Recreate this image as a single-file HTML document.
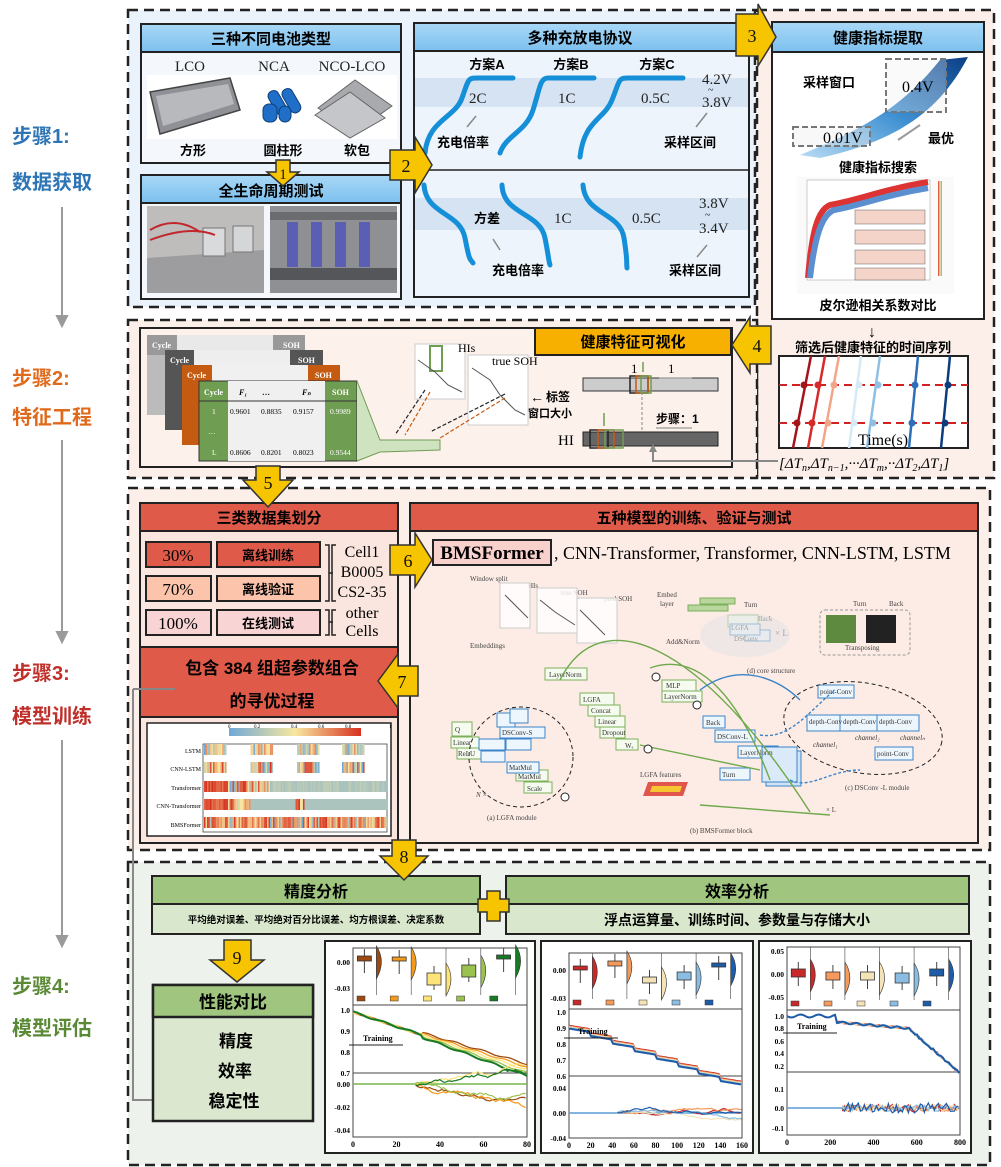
<!DOCTYPE html>
<html><head><meta charset="utf-8"><style>
html,body{margin:0;padding:0;background:#fff}
svg{display:block}
text{font-family:"Liberation Sans","Noto Sans CJK SC",sans-serif}
.s{font-family:"Liberation Serif","Noto Serif CJK SC",serif}
.b{font-weight:bold}
</style></head><body>
<svg id="sv" width="1001" height="1167" viewBox="0 0 1001 1167" xmlns="http://www.w3.org/2000/svg">
<defs>
<linearGradient id="hb" x1="0" y1="0" x2="0" y2="1"><stop offset="0" stop-color="#a9d8f7"/><stop offset="1" stop-color="#7cc0ee"/></linearGradient>
<linearGradient id="hg" x1="0" y1="1" x2="1" y2="0"><stop offset="0" stop-color="#b8dcf5"/><stop offset="0.5" stop-color="#3d8fd1"/><stop offset="1" stop-color="#0b3f86"/></linearGradient>
<linearGradient id="cb" x1="0" y1="0" x2="1" y2="0"><stop offset="0" stop-color="#6fa8d6"/><stop offset="0.5" stop-color="#f8e7a0"/><stop offset="1" stop-color="#d7301f"/></linearGradient>
</defs>

<!-- left step labels -->
<g class="b" font-size="20">
<text x="12" y="143" fill="#2e75b6" font-weight="bold">步骤1:</text>
<text x="12" y="189" fill="#2e75b6" font-weight="bold">数据获取</text>
<text x="12" y="385" fill="#e06a1b" font-weight="bold">步骤2:</text>
<text x="12" y="424" fill="#e06a1b" font-weight="bold">特征工程</text>
<text x="12" y="680" fill="#c0302b" font-weight="bold">步骤3:</text>
<text x="12" y="723" fill="#c0302b" font-weight="bold">模型训练</text>
<text x="12" y="993" fill="#5a8a35" font-weight="bold">步骤4:</text>
<text x="12" y="1035" fill="#5a8a35" font-weight="bold">模型评估</text>
</g>
<g stroke="#9a9a9a" stroke-width="2" fill="#9a9a9a">
<line x1="62" y1="207" x2="62" y2="318"/><path d="M57,316 L62,326 L67,316Z"/>
<line x1="62" y1="440" x2="62" y2="634"/><path d="M57,632 L62,642 L67,632Z"/>
<line x1="62" y1="740" x2="62" y2="938"/><path d="M57,936 L62,946 L67,936Z"/>
</g>

<!-- section backgrounds -->
<rect x="757" y="10" width="237" height="468" fill="#fcefe9"/>
<rect x="128" y="10" width="627" height="297" fill="#eaf2fb" stroke="#222" stroke-width="2.5" stroke-dasharray="10,6"/>
<rect x="757" y="10" width="237" height="468" fill="none" stroke="#222" stroke-width="2.5" stroke-dasharray="10,6"/>
<rect x="128" y="320" width="629" height="158" fill="#fcefe9" stroke="#222" stroke-width="2.5" stroke-dasharray="10,6"/>
<rect x="128" y="488" width="862" height="362" fill="#fcefe9" stroke="#222" stroke-width="2.5" stroke-dasharray="10,6"/>
<rect x="128" y="862" width="862" height="303" fill="#eef2ec" stroke="#222" stroke-width="2.5" stroke-dasharray="10,6"/>

<!-- ===== Section 1 ===== -->
<rect x="141" y="24" width="260" height="139" fill="#f4f8fc" stroke="#222" stroke-width="2"/>
<rect x="141" y="24" width="260" height="28" fill="url(#hb)" stroke="#222" stroke-width="2"/>
<text x="271" y="44" font-size="15" font-weight="bold" text-anchor="middle">三种不同电池类型</text>
<g class="s" font-size="15" text-anchor="middle" fill="#222">
<text x="190" y="71" class="s">LCO</text><text x="274" y="71" class="s">NCA</text><text x="352" y="71" class="s">NCO-LCO</text></g>
<rect x="147" y="75" width="250" height="64" fill="#fff"/>
<path d="M150,92 L230,78 L240,110 L160,134 Z" fill="#8f9196" stroke="#444" stroke-width="1.5"/>
<path d="M156,96 L228,84 L234,104 L163,126Z" fill="#b7b9bd"/>
<g fill="#1f6fc9" stroke="#0d3f7a"><rect x="272" y="90" width="11" height="26" rx="5" transform="rotate(-30 277 103)"/><rect x="286" y="88" width="11" height="26" rx="5" transform="rotate(-30 291 101)"/><rect x="263" y="104" width="14" height="18" rx="6"/><rect x="279" y="106" width="12" height="16" rx="6"/></g>
<g fill="#a8aaae" stroke="#666"><path d="M318,108 L355,80 L392,106 L355,132Z"/><path d="M315,115 L350,92 L385,118 L350,138Z" fill="#c4c6ca"/></g>
<g font-size="13" font-weight="bold" text-anchor="middle"><text x="193" y="155">方形</text><text x="283" y="155">圆柱形</text><text x="357" y="155">软包</text></g>

<rect x="141" y="175" width="260" height="124" fill="#f4f8fc" stroke="#222" stroke-width="2"/>
<rect x="141" y="175" width="260" height="28" fill="url(#hb)" stroke="#222" stroke-width="2"/>
<text x="271" y="196" font-size="15" font-weight="bold" text-anchor="middle">全生命周期测试</text>
<rect x="147" y="206" width="117" height="87" fill="#bfbcbc"/>
<path d="M147,258 L264,250 L264,293 L147,293Z" fill="#9d9c9e"/>
<rect x="203" y="228" width="22" height="28" fill="#d9dadc" stroke="#777"/><rect x="233" y="226" width="20" height="26" fill="#d5d6d8" stroke="#777"/>
<path d="M150,230 Q175,215 200,232 M150,240 Q190,225 215,235" stroke="#c0282e" stroke-width="2" fill="none"/>
<rect x="270" y="206" width="127" height="87" fill="#8f9094"/>
<rect x="270" y="212" width="127" height="8" fill="#6b6c70"/><rect x="270" y="268" width="127" height="12" fill="#55565a"/>
<g fill="#5a5fb4"><rect x="287" y="222" width="11" height="45"/><rect x="311" y="222" width="11" height="45"/><rect x="335" y="222" width="11" height="45"/><rect x="359" y="222" width="11" height="45"/></g>

<rect x="414" y="23" width="335" height="274" fill="#eef4fb" stroke="#222" stroke-width="2"/>
<rect x="414" y="23" width="335" height="28" fill="url(#hb)" stroke="#222" stroke-width="2"/>
<text x="580" y="43" font-size="15" font-weight="bold" text-anchor="middle">多种充放电协议</text>
<line x1="414" y1="170" x2="749" y2="170" stroke="#222" stroke-width="1.5"/>
<rect x="415" y="78" width="333" height="29" fill="#d5e3f2"/>
<rect x="415" y="198" width="333" height="32" fill="#d5e3f2"/>
<g stroke="#168fd9" stroke-width="5" fill="none" stroke-linecap="round">
<path d="M425,153 C428,120 455,118 462,98 S468,78 478,78 L513,78"/>
<path d="M500,153 C506,135 526,132 533,110 S540,78 548,78 L594,78"/>
<path d="M580,157 C584,120 604,120 612,100 S618,78 628,78 L683,78"/>
<path d="M424,185 C426,215 460,212 465,238 S470,258 473,263"/>
<path d="M502,185 C503,215 540,212 545,238 S548,258 550,265"/>
<path d="M583,185 C585,215 620,212 624,238 S626,258 627,268"/>
</g>
<g font-size="13" font-weight="bold" text-anchor="middle"><text x="487" y="69">方案A</text><text x="571" y="69">方案B</text><text x="657" y="69">方案C</text>
<text x="463" y="147">充电倍率</text><text x="690" y="147">采样区间</text><text x="487" y="223">方差</text><text x="518" y="275">充电倍率</text><text x="695" y="275">采样区间</text></g>
<g class="s" font-size="15" fill="#222"><text x="469" y="103" class="s">2C</text><text x="558" y="103" class="s">1C</text><text x="641" y="103" class="s">0.5C</text><text x="554" y="223" class="s">1C</text><text x="632" y="223" class="s">0.5C</text>
<text x="702" y="84" class="s">4.2V</text><text x="708" y="93" class="s" font-size="10">~</text><text x="702" y="107" class="s">3.8V</text>
<text x="699" y="208" class="s">3.8V</text><text x="705" y="218" class="s" font-size="10">~</text><text x="699" y="233" class="s">3.4V</text></g>
<g stroke="#888" stroke-width="1.5" fill="#888"><line x1="467" y1="127" x2="476" y2="116"/><line x1="500" y1="250" x2="493" y2="239"/><line x1="696" y1="127" x2="707" y2="113"/><line x1="697" y1="257" x2="707" y2="245"/></g>

<!-- health box -->
<rect x="772" y="22" width="212" height="297" fill="#fff" stroke="#222" stroke-width="2"/>
<rect x="772" y="22" width="212" height="30" fill="url(#hb)" stroke="#222" stroke-width="2"/>
<text x="878" y="43" font-size="15" font-weight="bold" text-anchor="middle">健康指标提取</text>
<path d="M800,155 C860,130 900,110 940,60 L968,57 C940,110 900,140 820,158 Z" fill="url(#hg)"/>
<rect x="886" y="59" width="60" height="53" fill="#eee" fill-opacity="0.3" stroke="#777" stroke-width="2" stroke-dasharray="6,3"/>
<rect x="793" y="127" width="77" height="19" fill="#eee" fill-opacity="0.4" stroke="#777" stroke-width="2" stroke-dasharray="6,3"/>
<text x="803" y="87" font-size="13" font-weight="bold">采样窗口</text>
<text x="902" y="92" class="s" font-size="16">0.4V</text><text x="823" y="143" class="s" font-size="16">0.01V</text>
<text x="928" y="143" font-size="13" font-weight="bold">最优</text>
<line x1="920" y1="125" x2="898" y2="140" stroke="#999" stroke-width="2"/>
<text x="878" y="172" font-size="13" font-weight="bold" text-anchor="middle">健康指标搜索</text>
<rect x="797" y="177" width="157" height="117" fill="#fafafa"/>
<rect x="807" y="180" width="123" height="100" fill="#fff" stroke="#999" stroke-width="0.5"/>
<path d="M808,278 C812,230 818,210 830,205 C860,200 880,190 928,182" stroke="#d33" stroke-width="6" fill="none"/>
<path d="M810,278 C815,235 822,215 834,210 C862,205 885,195 928,188" stroke="#5b8fcf" stroke-width="6" fill="none"/>
<g fill="#f4d3c8" stroke="#666" stroke-width="0.5"><rect x="855" y="210" width="70" height="14"/><rect x="855" y="230" width="70" height="14"/><rect x="855" y="250" width="70" height="14"/><rect x="855" y="268" width="70" height="12"/></g>
<rect x="938" y="182" width="4" height="95" fill="url(#cb)" transform="rotate(180 940 229)"/>
<text x="878" y="310" font-size="13" font-weight="bold" text-anchor="middle">皮尔逊相关系数对比</text>
<text x="872" y="337" font-size="16" font-weight="bold" text-anchor="middle">↓</text>
<text x="873" y="352" font-size="13" font-weight="bold" text-anchor="middle">筛选后健康特征的时间序列</text>
<rect x="779" y="356" width="189" height="92" fill="#fff" stroke="#222" stroke-width="2"/>
<g stroke-width="2.5"><line x1="793" y1="448" x2="811" y2="356" stroke="#a4141b"/><line x1="808" y1="448" x2="825" y2="356" stroke="#d62a2a"/><line x1="822" y1="448" x2="839" y2="356" stroke="#f3a58a"/><line x1="849" y1="448" x2="861" y2="356" stroke="#d6eaf6"/><line x1="867" y1="448" x2="880" y2="356" stroke="#8fc0e4"/><line x1="909" y1="448" x2="918" y2="356" stroke="#2d6fb8"/><line x1="941" y1="448" x2="950" y2="356" stroke="#0e3d7d"/></g>
<line x1="779" y1="385" x2="968" y2="385" stroke="#d42020" stroke-width="2" stroke-dasharray="8,5"/>
<line x1="779" y1="423" x2="968" y2="423" stroke="#d42020" stroke-width="2" stroke-dasharray="8,5"/>
<g><circle cx="804" cy="385" r="3.5" fill="#a4141b"/><circle cx="818" cy="385" r="3.5" fill="#d62a2a"/><circle cx="834" cy="385" r="3.5" fill="#f3a58a"/><circle cx="859" cy="385" r="3.5" fill="#d6eaf6"/><circle cx="878" cy="385" r="3.5" fill="#8fc0e4"/><circle cx="915" cy="385" r="3.5" fill="#2d6fb8"/><circle cx="948" cy="385" r="3.5" fill="#0e3d7d"/>
<circle cx="797" cy="423" r="3.5" fill="#a4141b"/><circle cx="812" cy="423" r="3.5" fill="#d62a2a"/><circle cx="828" cy="423" r="3.5" fill="#f3a58a"/><circle cx="854" cy="423" r="3.5" fill="#d6eaf6"/><circle cx="873" cy="423" r="3.5" fill="#8fc0e4"/><circle cx="912" cy="423" r="3.5" fill="#2d6fb8"/><circle cx="945" cy="423" r="3.5" fill="#0e3d7d"/></g>
<text x="858" y="445" class="s" font-size="16">Time(s)</text>
<text x="779" y="468" class="s" font-size="15" font-style="italic">[ΔT<tspan font-size="10" dy="3">n</tspan><tspan dy="-3">,ΔT</tspan><tspan font-size="10" dy="3">n−1</tspan><tspan dy="-3">,···ΔT</tspan><tspan font-size="10" dy="3">m</tspan><tspan dy="-3">,··ΔT</tspan><tspan font-size="10" dy="3">2</tspan><tspan dy="-3">,ΔT</tspan><tspan font-size="10" dy="3">1</tspan><tspan dy="-3">]</tspan></text>

<!-- ===== Section 2 ===== -->
<rect x="140" y="328" width="592" height="139" fill="#fdf1ec" stroke="#222" stroke-width="2"/>
<rect x="535" y="328" width="196" height="27" fill="#f7b000" stroke="#222" stroke-width="2"/>
<text x="633" y="347" font-size="15" font-weight="bold" text-anchor="middle">健康特征可视化</text>
<g font-size="8" font-weight="bold" class="s">
<rect x="147" y="335" width="158" height="80" fill="#bbb"/><rect x="147" y="335" width="158" height="20" fill="#999"/><rect x="177" y="335" width="96" height="80" fill="#e9e9e9"/><text x="152" y="348" fill="#fff" class="s">Cycle</text><text x="283" y="348" fill="#fff" class="s">SOH</text>
<rect x="165" y="350" width="158" height="80" fill="#555"/><rect x="194" y="350" width="96" height="80" fill="#eee"/><text x="170" y="363" fill="#fff" class="s">Cycle</text><text x="298" y="363" fill="#fff" class="s">SOH</text>
<rect x="182" y="365" width="158" height="80" fill="#c55a11"/><rect x="212" y="365" width="96" height="80" fill="#f0f0f0"/><text x="187" y="378" fill="#fff" class="s">Cycle</text><text x="315" y="378" fill="#fff" class="s">SOH</text>
<rect x="199" y="381" width="158" height="80" fill="#6f9d52" stroke="#333"/><rect x="228" y="381" width="97" height="80" fill="#f0f0f0"/><line x1="199" y1="401" x2="357" y2="401" stroke="#333"/>
<text x="204" y="395" fill="#fff" class="s">Cycle</text><text x="239" y="395" class="s" font-style="italic">F₁</text><text x="262" y="395" class="s">…</text><text x="302" y="395" class="s" font-style="italic">Fₙ</text><text x="332" y="395" fill="#fff" class="s">SOH</text>
<g font-weight="normal" font-size="7.5"><text x="212" y="414" fill="#fff" class="s">1</text><text x="230" y="414" class="s">0.9601</text><text x="261" y="414" class="s">0.8835</text><text x="293" y="414" class="s">0.9157</text><text x="330" y="414" fill="#fff" class="s">0.9989</text>
<text x="208" y="434" fill="#fff" class="s">…</text><text x="212" y="455" fill="#fff" class="s">L</text><text x="230" y="455" class="s">0.8606</text><text x="261" y="455" class="s">0.8201</text><text x="293" y="455" class="s">0.8023</text><text x="330" y="455" fill="#fff" class="s">0.9544</text></g>
</g>
<path d="M357,381 L380,440 L440,440 L440,450 L380,452 L357,461" fill="#cfe3c0" stroke="#6f9d52"/>
<rect x="415" y="344" width="50" height="55" fill="#fff" stroke="#ccc"/><rect x="430" y="346" width="12" height="25" fill="none" stroke="#6f9d52" stroke-width="2"/>
<path d="M418,360 L435,372 L448,385 L462,392" stroke="#555" fill="none"/>
<rect x="468" y="355" width="60" height="70" fill="#fff" stroke="#ccc"/>
<path d="M472,368 L490,380 L500,395 L515,410 L525,415" stroke="#555" fill="none"/>
<text x="458" y="352" class="s" font-size="12">HIs</text><text x="492" y="365" class="s" font-size="12">true SOH</text>
<g stroke-dasharray="4,2" stroke-width="1.2" fill="none"><line x1="425" y1="390" x2="395" y2="435" stroke="#222"/><line x1="430" y1="392" x2="405" y2="435" stroke="#c55a11"/><line x1="505" y1="394" x2="430" y2="432" stroke="#222"/><line x1="505" y1="398" x2="440" y2="438" stroke="#c55a11"/></g>
<text x="546" y="401" font-size="12" font-weight="bold">标签</text><text x="528" y="417" font-size="11" font-weight="bold">窗口大小</text>
<text x="530" y="402" font-size="14" font-weight="bold">←</text>
<text x="558" y="445" class="s" font-size="15">HI</text>
<rect x="583" y="378" width="135" height="13" fill="#ccc" stroke="#333"/>
<rect x="583" y="432" width="135" height="14" fill="#666" stroke="#222"/>
<rect x="630" y="376" width="18" height="17" fill="none" stroke="#222" stroke-width="1.5"/><rect x="636" y="376" width="12" height="17" fill="none" stroke="#c55a11" stroke-width="1.5"/><rect x="641" y="376" width="10" height="17" fill="none" stroke="#6f9d52" stroke-width="1.5"/>
<rect x="590" y="430" width="18" height="18" fill="none" stroke="#222" stroke-width="1.5"/><rect x="598" y="430" width="16" height="18" fill="none" stroke="#c55a11" stroke-width="1.5"/><rect x="605" y="430" width="18" height="18" fill="none" stroke="#6f9d52" stroke-width="1.5"/>
<text x="631" y="373" class="s" font-size="13">1</text><text x="668" y="373" class="s" font-size="13">1</text>
<line x1="659" y1="378" x2="692" y2="378" stroke="#999" stroke-width="1.2"/>
<text x="656" y="423" font-size="12" font-weight="bold">步骤：1</text><line x1="656" y1="428" x2="692" y2="428" stroke="#999" stroke-width="1.2"/>
<line x1="643" y1="362" x2="643" y2="372" stroke="#6f9d52" stroke-width="1.5"/><line x1="604" y1="413" x2="604" y2="426" stroke="#6f9d52" stroke-width="1.5"/>
<line x1="642" y1="392" x2="642" y2="432" stroke="#888" stroke-dasharray="3,2"/>
<path d="M778,461 L653,461 L653,450" stroke="#888" stroke-width="2" fill="none"/><path d="M649,452 L653,444 L657,452Z" fill="#888"/>

<!-- ===== Section 3 ===== -->
<rect x="140" y="503" width="258" height="340" fill="#fbe6df" stroke="#222" stroke-width="2"/>
<rect x="140" y="503" width="258" height="28" fill="#e05a4a" stroke="#222" stroke-width="2"/>
<text x="269" y="523" font-size="15" font-weight="bold" text-anchor="middle">三类数据集划分</text>
<g stroke="#222" stroke-width="2">
<rect x="146" y="542" width="65" height="25" fill="#e05a4a"/><rect x="217" y="542" width="103" height="25" fill="#e05a4a"/>
<rect x="146" y="576" width="65" height="25" fill="#fbc4ab"/><rect x="217" y="576" width="103" height="25" fill="#fbc4ab"/>
<rect x="146" y="610" width="65" height="25" fill="#f8d4d4"/><rect x="217" y="610" width="103" height="25" fill="#f8d4d4"/></g>
<g class="s" font-size="17" text-anchor="middle"><text x="178" y="561" class="s">30%</text><text x="178" y="595" class="s">70%</text><text x="178" y="629" class="s">100%</text></g>
<g font-size="13" font-weight="bold" text-anchor="middle"><text x="268" y="560">离线训练</text><text x="268" y="594">离线验证</text><text x="268" y="628">在线测试</text></g>
<path d="M325,545 L329,545 L329,601 L325,601 M329,573 L333,573 M336,545 L332,545 L332,601 L336,601 M325,610 L329,610 L329,635 L325,635 M329,622 L333,622 M336,610 L332,610 L332,635 L336,635" stroke="#222" stroke-width="1.5" fill="none"/>
<g class="s" font-size="16" text-anchor="middle"><text x="362" y="557" class="s">Cell1</text><text x="362" y="577" class="s">B0005</text><text x="362" y="597" class="s">CS2-35</text><text x="362" y="618" class="s">other</text><text x="362" y="636" class="s">Cells</text></g>
<rect x="140" y="647" width="258" height="70" fill="#e05a4a" stroke="#222" stroke-width="2"/>
<text x="272" y="674" font-size="17" font-weight="bold" text-anchor="middle">包含 384 组超参数组合</text>
<text x="272" y="707" font-size="17" font-weight="bold" text-anchor="middle">的寻优过程</text>
<rect x="147" y="723" width="244" height="113" fill="#fff" stroke="#222" stroke-width="1.5"/>
<rect x="229" y="728" width="132" height="8" fill="url(#cb)"/>
<g font-size="5" class="s"><text x="228" y="728" class="s">0</text><text x="254" y="728" class="s">0.2</text><text x="291" y="728" class="s">0.4</text><text x="318" y="728" class="s">0.6</text><text x="345" y="728" class="s">0.8</text><text x="389" y="728" class="s">1</text></g>
<g font-size="6" class="s" text-anchor="end"><text x="201" y="753" class="s">LSTM</text><text x="201" y="771" class="s">CNN-LSTM</text><text x="201" y="790" class="s">Transformer</text><text x="201" y="808" class="s">CNN-Transformer</text><text x="201" y="827" class="s">BMSFormer</text></g>
<rect x="203" y="744" width="184" height="88" fill="none" stroke="#444" stroke-width="0.8"/>
<g id="heat"></g>

<rect x="410" y="503" width="568" height="340" fill="#fdece5" stroke="#222" stroke-width="2"/>
<rect x="410" y="503" width="568" height="28" fill="#e05a4a" stroke="#222" stroke-width="2"/>
<text x="694" y="523" font-size="15" font-weight="bold" text-anchor="middle">五种模型的训练、验证与测试</text>
<rect x="433" y="540" width="118" height="25" fill="#f8d0cc" stroke="#222" stroke-width="2"/>
<text x="492" y="559" class="s" font-size="19" font-weight="bold" text-anchor="middle">BMSFormer</text>
<text x="554" y="559" class="s" font-size="18">, CNN-Transformer, Transformer, CNN-LSTM, LSTM</text>
<g font-size="7" class="s" fill="#444">
<text x="470" y="581" class="s">Window split</text><text x="528" y="588" class="s">HIs</text><text x="561" y="595" class="s">true SOH</text><text x="604" y="601" class="s">pred SOH</text><text x="470" y="648" class="s">Embeddings</text>
<text x="657" y="597" class="s">Embed</text><text x="660" y="606" class="s">layer</text><text x="744" y="607" class="s">Turn</text><text x="758" y="621" class="s">Back</text><text x="666" y="644" class="s">Add&amp;Norm</text><text x="775" y="636" class="s" font-size="9">× L</text>
<text x="747" y="673" class="s">(d) core structure</text><text x="853" y="606" class="s">Turn</text><text x="889" y="606" class="s">Back</text><text x="845" y="650" class="s">Transposing</text>
<text x="845" y="790" class="s">(c) DSConv -L module</text><text x="640" y="777" class="s">LGFA features</text><text x="487" y="820" class="s">(a) LGFA module</text><text x="690" y="833" class="s">(b) BMSFormer block</text><text x="476" y="797" class="s" font-style="italic">N ×</text>
<text x="826" y="812" class="s">× L</text>
</g>
<g fill="#fff" fill-opacity="0.8" stroke-width="1"><rect x="500" y="583" width="30" height="45" stroke="#ccc"/><rect x="537" y="588" width="40" height="45" stroke="#ccc"/><rect x="577" y="598" width="40" height="45" stroke="#ccc"/></g>
<path d="M505,595 L520,610 L528,618 M540,600 L555,612 L575,625 M580,610 L590,620 L605,635" stroke="#555" fill="none"/>
<g stroke="#7cb15a" fill="#f5fbef" stroke-width="1"><rect x="545" y="668" width="42" height="12"/><rect x="580" y="693" width="34" height="12"/><rect x="588" y="705" width="32" height="11"/><rect x="595" y="716" width="30" height="11"/><rect x="600" y="727" width="25" height="11"/><rect x="616" y="739" width="22" height="11"/>
<rect x="452" y="722" width="20" height="14"/><rect x="451" y="737" width="28" height="11"/><rect x="457" y="748" width="24" height="11"/><rect x="516" y="770" width="32" height="11"/><rect x="524" y="782" width="28" height="11"/>
<rect x="662" y="680" width="34" height="11"/><rect x="662" y="691" width="40" height="11"/><rect x="728" y="615" width="30" height="12"/><rect x="700" y="598" width="35" height="6" fill="#b9d69f"/><rect x="688" y="605" width="40" height="6" fill="#b9d69f"/></g>
<g stroke="#3b84c9" fill="#eef6fd" stroke-width="1"><rect x="497" y="713" width="18" height="14"/><rect x="510" y="709" width="18" height="14"/><rect x="500" y="727" width="45" height="11"/><rect x="479" y="739" width="26" height="11"/><rect x="481" y="751" width="24" height="11"/><rect x="506" y="739" width="25" height="11"/><rect x="507" y="762" width="32" height="11"/>
<rect x="703" y="716" width="22" height="12"/><rect x="715" y="730" width="40" height="12"/><rect x="738" y="746" width="40" height="12"/><rect x="720" y="768" width="30" height="12"/><rect x="766" y="751" width="35" height="35" fill="#cfe3f5"/><rect x="762" y="747" width="35" height="35" fill="#dbeaf8"/>
<rect x="818" y="685" width="36" height="13"/><rect x="807" y="715" width="40" height="16"/><rect x="840" y="715" width="40" height="16"/><rect x="877" y="715" width="42" height="16"/><rect x="875" y="747" width="38" height="13"/><rect x="745" y="630" width="25" height="11"/><rect x="730" y="624" width="30" height="11"/></g>
<g font-size="7" class="s" fill="#333"><text x="549" y="677" class="s">LayerNorm</text><text x="583" y="702" class="s">LGFA</text><text x="591" y="713" class="s">Concat</text><text x="598" y="724" class="s">Linear</text><text x="602" y="735" class="s">Dropout</text><text x="625" y="748" class="s">Wₑ</text>
<text x="666" y="688" class="s">MLP</text><text x="664" y="699" class="s">LayerNorm</text><text x="706" y="725" class="s">Back</text><text x="717" y="739" class="s">DSConv-L</text><text x="740" y="755" class="s">LayerNorm</text><text x="722" y="777" class="s">Turn</text>
<text x="455" y="732" class="s">Q</text><text x="453" y="745" class="s">Linear</text><text x="458" y="756" class="s">ReLU</text><text x="502" y="735" class="s">DSConv-S</text><text x="509" y="770" class="s">MatMul</text><text x="518" y="779" class="s">MatMul</text><text x="527" y="791" class="s">Scale</text>
<text x="820" y="694" class="s">point-Conv</text><text x="809" y="724" class="s">depth-Conv</text><text x="843" y="724" class="s">depth-Conv</text><text x="879" y="724" class="s">depth-Conv</text><text x="877" y="756" class="s">point-Conv</text><text x="813" y="747" class="s" font-style="italic">channel₁</text><text x="855" y="740" class="s" font-style="italic">channel₂</text><text x="900" y="740" class="s" font-style="italic">channelₙ</text><text x="731" y="630" class="s">LGFA</text><text x="734" y="641" class="s">DSConv</text></g>
<ellipse cx="521" cy="757" rx="52" ry="50" fill="none" stroke="#222" stroke-dasharray="4,3"/>
<ellipse cx="863" cy="728" rx="80" ry="45" fill="none" stroke="#222" stroke-dasharray="4,3" transform="rotate(10 863 728)"/>
<ellipse cx="745" cy="635" rx="45" ry="22" fill="#e4e4e4" fill-opacity="0.6"/>
<rect x="820" y="610" width="90" height="45" rx="5" fill="none" stroke="#999" stroke-dasharray="3,2"/>
<rect x="826" y="615" width="30" height="28" fill="#5d8a3e"/><rect x="866" y="615" width="30" height="28" fill="#222"/>
<g fill="none" stroke-width="1.4"><path d="M560,680 C600,600 700,640 810,812" stroke="#6ea94b"/><path d="M650,668 C700,650 740,700 770,780" stroke="#6ea94b"/><path d="M640,745 L760,770" stroke="#6ea94b"/><path d="M700,690 C740,660 780,680 800,700" stroke="#3b84c9"/><path d="M790,780 C810,790 830,770 860,770" stroke="#3b84c9" stroke-dasharray="3,2"/><path d="M760,735 C790,740 810,710 835,690" stroke="#3b84c9" stroke-dasharray="3,2"/><path d="M700,805 L830,815" stroke="#6ea94b"/></g>
<g fill="#fff" stroke="#222"><circle cx="648" cy="749" r="4"/><circle cx="656" cy="677" r="4"/><circle cx="697" cy="705" r="4"/><circle cx="565" cy="797" r="4"/></g>
<path d="M648,782 L688,782 L683,796 L643,796Z" fill="#e0554c"/><path d="M652,786 L682,786 L680,792 L650,792Z" fill="#f7c531"/>

<!-- connector lines -->
<path d="M133,689 L175,689 M133,689 L133,1100 L188,1100" stroke="#888" stroke-width="2" fill="none"/><path d="M186,1095 L197,1100 L186,1105Z" fill="#888"/>

<!-- ===== Section 4 ===== -->
<rect x="152" y="876" width="328" height="58" fill="#d9e8cc" stroke="#222" stroke-width="2"/>
<rect x="152" y="876" width="328" height="28" fill="#9fc57f" stroke="#222" stroke-width="2"/>
<text x="316" y="897" font-size="16" font-weight="bold" text-anchor="middle">精度分析</text>
<text x="316" y="923" font-size="9.5" font-weight="bold" text-anchor="middle">平均绝对误差、平均绝对百分比误差、均方根误差、决定系数</text>
<rect x="506" y="876" width="463" height="58" fill="#d9e8cc" stroke="#222" stroke-width="2"/>
<rect x="506" y="876" width="463" height="28" fill="#9fc57f" stroke="#222" stroke-width="2"/>
<text x="737" y="897" font-size="16" font-weight="bold" text-anchor="middle">效率分析</text>
<text x="737" y="925" font-size="14" font-weight="bold" text-anchor="middle">浮点运算量、训练时间、参数量与存储大小</text>
<path d="M487,891 L500,891 L500,899 L509,899 L509,912 L500,912 L500,921 L487,921 L487,912 L478,912 L478,899 L487,899Z" fill="#f7c400" stroke="#333" stroke-width="1.5"/>
<rect x="153" y="985" width="160" height="136" fill="#dbe8cf" stroke="#222" stroke-width="2.5"/>
<rect x="153" y="985" width="160" height="32" fill="#9fc57f" stroke="#222" stroke-width="2.5"/>
<text x="233" y="1008" font-size="17" font-weight="bold" text-anchor="middle">性能对比</text>
<g font-size="17" font-weight="bold" text-anchor="middle"><text x="236" y="1047">精度</text><text x="235" y="1077">效率</text><text x="234" y="1107">稳定性</text></g>
<g id="charts"></g>

<!-- yellow arrows -->
<g fill="#f7c400" stroke="#333" stroke-width="1.5">
<path d="M276,160 L290,160 L290,172 L299,172 L283,186 L267,172 L276,172Z"/>
<path d="M390,150 L415,150 L415,137 L432,165 L415,193 L415,180 L390,180Z"/>
<path d="M736,14 L758,14 L758,4 L776,37 L758,66 L758,56 L736,56Z"/>
<path d="M771,326 L750,326 L750,317 L732,345 L750,373 L750,364 L771,364Z"/>
<path d="M256,466 L280,466 L280,480 L293,480 L268,507 L243,480 L256,480Z"/>
<path d="M390,545 L415,545 L415,533 L432,560 L415,587 L415,575 L390,575Z"/>
<path d="M418,666 L398,666 L398,654 L378,681 L398,708 L398,696 L418,696Z"/>
<path d="M392,840 L416,840 L416,856 L428,856 L404,880 L380,856 L392,856Z"/>
<path d="M224,940 L251,940 L251,960 L264,960 L237,982 L210,960 L224,960Z"/>
</g>
<g font-size="18" text-anchor="middle" fill="#111">
<text x="283" y="179" font-size="15" class="s">1</text><text x="406" y="172" class="s">2</text><text x="752" y="42" class="s">3</text><text x="757" y="352" class="s">4</text><text x="268" y="489" class="s">5</text><text x="408" y="567" class="s">6</text><text x="402" y="688" class="s">7</text><text x="404" y="863" class="s">8</text><text x="237" y="964" class="s">9</text>
</g>
</svg>
<script>
(function(){
var NS="http://www.w3.org/2000/svg";
function el(p,t,a){var e=document.createElementNS(NS,t);for(var k in a)e.setAttribute(k,a[k]);p.appendChild(e);return e;}
var seed=7;function r(){seed=(seed*16807)%2147483647;return (seed-1)/2147483646;}
function col(v){var c=[[111,168,214],[248,231,160],[215,48,31]];var i=v<0.5?0:1;var t=v<0.5?v*2:(v-0.5)*2;var a=c[i],b=c[i+1];return "rgb("+Math.round(a[0]+(b[0]-a[0])*t)+","+Math.round(a[1]+(b[1]-a[1])*t)+","+Math.round(a[2]+(b[2]-a[2])*t)+")";}
var h=document.getElementById("heat");
var rows=[749,767,786,804,822];
for(var ri=0;ri<5;ri++){
 for(var x=204;x<386;x+=1.5){
  var seg=(x-204)/182;var v;
  if(ri<2){var s=Math.floor((x-204)/46);var lx=(x-204)-s*46;if(lx>22)continue;v=r()*(ri==0?0.8:1);}
  else if(ri==2){v=seg<0.13?0.8+0.2*r():(seg<0.37?r():0.2+0.1*r());}
  else if(ri==3){v=seg<0.13?0.8+0.2*r():(seg>0.5&&seg<0.55?0.9*r()+0.1:(seg<0.25?r():0.22));}
  else{v=0.5+0.5*r();if(r()<0.3)v=r();}
  el(h,"rect",{x:x,y:rows[ri]-5,width:1.6,height:11,fill:col(v)});
 }
}
var g=document.getElementById("charts");
function panel(px,py,pw,ph,ax,opt){
 el(g,"rect",{x:px,y:py,width:pw,height:ph,fill:"#fff",stroke:"#222","stroke-width":2});
 var x0=ax[0],x1=ax[1],t0=ax[2],t1=ax[3],m1=ax[4],b1=ax[5];
 el(g,"rect",{x:x0,y:t0,width:x1-x0,height:b1-t0,fill:"none",stroke:"#444","stroke-width":1});
 el(g,"line",{x1:x0,y1:t1,x2:x1,y2:t1,stroke:"#444"});el(g,"line",{x1:x0,y1:m1,x2:x1,y2:m1,stroke:"#444"});
 var cols=opt.cols;var n=5;
 for(var i=0;i<n;i++){var cx=x0+(x1-x0)*(i+0.5)/n-6;var cy=opt.bc[i];
  el(g,"line",{x1:cx,y1:cy-12,x2:cx,y2:cy+12,stroke:"#444"});
  el(g,"rect",{x:cx-7,y:cy-5,width:14,height:opt.bh[i],fill:cols[i],stroke:"#333","stroke-width":0.8});
  el(g,"path",{d:"M"+(cx+12)+","+(cy-15)+" Q"+(cx+22)+","+cy+" "+(cx+12)+","+(cy+18)+"Z",fill:cols[i],stroke:"#333","stroke-width":0.6});
  el(g,"line",{x1:cx+12,y1:t0,x2:cx+12,y2:t1-10,stroke:"#444","stroke-width":0.6});
  el(g,"rect",{x:x0+4+i*(x1-x0-8)/5,y:t1-9,width:8,height:5,fill:cols[i],stroke:"#333","stroke-width":0.5});
 }
 for(var k=0;k<5;k++){var pts=[];var y;
  for(var x=x0;x<=x1;x+=2){var f=(x-x0)/(x1-x0);y=opt.mf(f,k);pts.push(x+","+y.toFixed(1));}
  el(g,"polyline",{points:pts.join(" "),fill:"none",stroke:cols[k],"stroke-width":k==4?2:1.3});}
 var zy=opt.zy;
 el(g,"line",{x1:x0,y1:zy,x2:x1,y2:zy,stroke:opt.zc,"stroke-width":1.5});
 for(var k=0;k<5;k++){var pts=[];var y=zy;
  for(var x=x0+(x1-x0)*opt.st;x<=x1;x+=2){y=opt.bf(k,y);pts.push(x+","+y.toFixed(1));}
  el(g,"polyline",{points:pts.join(" "),fill:"none",stroke:cols[k],"stroke-width":1.2});}
 var tl=opt.tl;
 for(var i=0;i<tl.length;i++){var t=el(g,"text",{x:x0+(x1-x0)*i/(tl.length-1),y:b1+10,"font-size":8,"text-anchor":"middle","class":"s","font-weight":"bold"});t.textContent=tl[i];}
 for(var i=0;i<opt.yl.length;i++){var t=el(g,"text",{x:x0-3,y:opt.yl[i][1]+3,"font-size":7.5,"text-anchor":"end","class":"s","font-weight":"bold"});t.textContent=opt.yl[i][0];}
 var t=el(g,"text",{x:opt.tr[0],y:opt.tr[1],"font-size":8,"class":"s","font-weight":"bold"});t.textContent="Training";
 el(g,"line",{x1:opt.tr[0]-14,y1:opt.tr[1]+4,x2:opt.tr[0]+40,y2:opt.tr[1]+4,stroke:"#222"});
}
panel(325,941,210,212,[353,527,948,1005,1073,1137],{cols:["#9c4a12","#f49a1a","#fde47a","#9bc24e","#187a24"],bc:[961,962,978,970,960],bh:[5,4,12,12,4],
 mf:function(f,k){return 1012+f*58+(f>0.4?(k-2)*f*3:0)+Math.sin(f*40+k)*0.8;},
 zy:1084,zc:"#7ab648",st:0.36,bf:function(k,y){var d=[0.15,0.35,-0.22,0.08,-0.03][k];return y+d+(r()-0.5)*3;},
 tl:["0","20","40","60","80"],yl:[["0.00",962],["-0.03",988],["1.0",1010],["0.9",1031],["0.8",1052],["0.7",1073],["0.00",1084],["-0.02",1107],["-0.04",1130]],tr:[363,1041]});
panel(541,941,212,212,[569,742,953,1009,1076,1138],{cols:["#c82a2a","#f29a5c","#f3e3b6","#8bbde3","#1f5ca8"],bc:[971,966,982,977,968],bh:[4,5,6,8,4],
 mf:function(f,k){var base=1027+f*60;var saw=((f*8)%1)*-4;return base+saw+(k-2)*0.8;},
 zy:1113,zc:"#5b9bd5",st:0.28,bf:function(k,y){var d=[0.02,-0.02,0.05,0.03,0][k];return Math.min(1135,Math.max(1090,y+d+(r()-0.5)*2));},
 tl:["0","20","40","60","80","100","120","140","160"],yl:[["0.00",970],["-0.03",998],["1.0",1012],["0.9",1028],["0.8",1044],["0.7",1060],["0.6",1076],["0.04",1088],["0.00",1113],["-0.04",1138]],tr:[578,1034]});
panel(759,941,212,212,[787,960,947,1010,1072,1135],{cols:["#c82a2a","#f49a5a","#f3e3b6","#8bbde3","#1f5ca8"],bc:[974,977,977,978,974],bh:[8,8,8,10,7],
 mf:function(f,k){if(f<0.28)return 1016+Math.sin(f*60)*1.5;if(f<0.7)return 1022+(f-0.28)*15+Math.sin(f*80+k)*1;return 1028+(f-0.7)*150+(r()-0.5)*3;},
 zy:1108,zc:"#5b9bd5",st:0.32,bf:function(k,y){return 1108+(r()-0.5)*(k==4?10:7);},
 tl:["0","200","400","600","800"],yl:[["0.05",951],["0.00",974],["-0.05",997],["1.0",1016],["0.8",1028],["0.6",1041],["0.4",1053],["0.2",1066],["0.1",1089],["0.0",1108],["-0.1",1128]],tr:[797,1029]});
})();
</script>
</body></html>
